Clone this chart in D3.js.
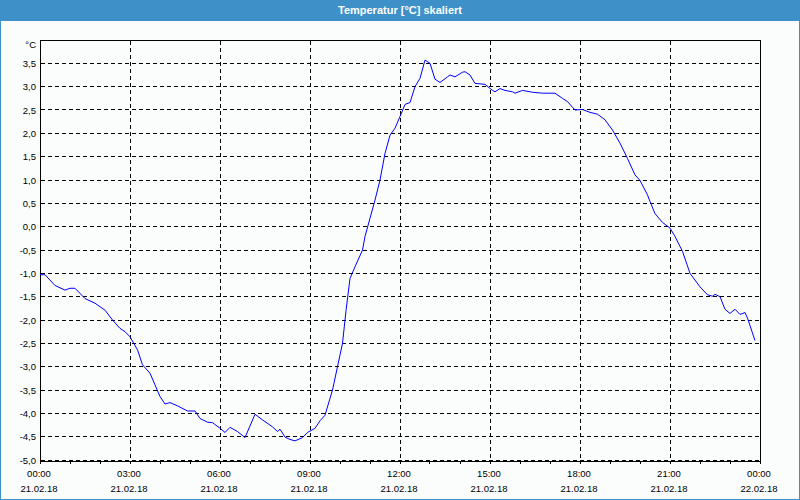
<!DOCTYPE html>
<html>
<head>
<meta charset="utf-8">
<script src="https://cdn.jsdelivr.net/npm/d3@7"></script>
<style>
html,body{margin:0;padding:0;background:#fbfcfc;}
svg{display:block;}
text{font-family:"Liberation Sans",Arial,sans-serif;}
</style>
</head>
<body>
<svg id="chart" width="800" height="500"></svg>
<script>
// ---- data ----
const titleText = "Temperatur [°C] skaliert";
const unitLabel = "°C";
// minutes since 21.02.18 00:00
const minutes = [0,10,30,50,60,70,90,110,130,145,160,170,180,195,205,220,230,240,250,260,275,295,310,320,335,345,360,370,380,395,410,430,445,465,475,480,490,500,510,525,535,550,560,570,585,595,605,612,620,630,645,650,660,670,680,690,700,710,720,730,740,750,760,770,780,790,800,815,820,830,845,850,860,870,890,905,910,920,930,945,950,965,985,1005,1030,1045,1055,1070,1085,1100,1115,1130,1145,1160,1175,1190,1200,1215,1220,1230,1245,1260,1270,1285,1300,1320,1335,1345,1350,1360,1370,1380,1390,1400,1410,1415,1430];
const temps = [-1.03,-1.03,-1.26,-1.36,-1.32,-1.32,-1.54,-1.64,-1.79,-2.0,-2.18,-2.25,-2.36,-2.64,-2.96,-3.14,-3.39,-3.64,-3.80,-3.77,-3.84,-3.95,-3.95,-4.11,-4.19,-4.20,-4.32,-4.41,-4.30,-4.39,-4.52,-4.02,-4.14,-4.29,-4.39,-4.34,-4.51,-4.56,-4.59,-4.52,-4.41,-4.32,-4.16,-4.04,-3.50,-3.00,-2.50,-1.80,-1.11,-0.86,-0.50,-0.21,0.18,0.57,1.00,1.57,1.96,2.11,2.36,2.62,2.66,3.00,3.18,3.57,3.50,3.16,3.09,3.21,3.25,3.21,3.31,3.32,3.25,3.07,3.05,2.92,2.89,2.96,2.92,2.89,2.86,2.92,2.88,2.86,2.86,2.75,2.68,2.50,2.51,2.45,2.41,2.29,2.07,1.79,1.46,1.11,0.99,0.68,0.54,0.28,0.09,-0.03,-0.21,-0.53,-1.00,-1.29,-1.46,-1.49,-1.45,-1.50,-1.77,-1.86,-1.77,-1.88,-1.84,-1.96,-2.44];
const yTicks = [-5.0,-4.5,-4.0,-3.5,-3.0,-2.5,-2.0,-1.5,-1.0,-0.5,0.0,0.5,1.0,1.5,2.0,2.5,3.0,3.5];
const xMajorMinutes = [0,180,360,540,720,900,1080,1260,1440];
const xTimeLabels = ["00:00","03:00","06:00","09:00","12:00","15:00","18:00","21:00","00:00"];
const xDateLabels = ["21.02.18","21.02.18","21.02.18","21.02.18","21.02.18","21.02.18","21.02.18","21.02.18","22.02.18"];
const xMinorMinutes = d3.range(0, 1441, 60);

// ---- layout ----
const W = 800, H = 500;
const L = 40, R = 760, T = 40, B = 460;
const blue = "#3d91c8";
const svg = d3.select("#chart");

const x = d3.scaleLinear().domain([0, 1440]).range([L, R]);
const y = d3.scaleLinear().domain([-5, 4]).range([B, T]);
const px = v => Math.floor(v) + 0.5;

// background & frame
svg.append("rect").attr("x",0).attr("y",0).attr("width",W).attr("height",H).attr("fill","#fbfcfc");
svg.append("rect").attr("x",0).attr("y",0).attr("width",W).attr("height",21).attr("fill",blue);
svg.append("rect").attr("x",0).attr("y",0).attr("width",1).attr("height",H).attr("fill",blue);
svg.append("rect").attr("x",W-1).attr("y",0).attr("width",1).attr("height",H).attr("fill",blue);
svg.append("rect").attr("x",0).attr("y",H-1).attr("width",W).attr("height",1).attr("fill",blue);

svg.append("text").attr("x",W/2).attr("y",14).attr("text-anchor","middle")
  .attr("fill","#ffffff").attr("font-size","11px").attr("font-weight","bold").text(titleText);

// gridlines
const grid = svg.append("g").attr("stroke","#000").attr("stroke-width",1)
  .attr("stroke-dasharray","4,3").attr("shape-rendering","crispEdges");
grid.selectAll("line.h").data(yTicks.filter(v => v < 4)).enter().append("line")
  .attr("x1",L+1).attr("x2",R)
  .attr("y1",d=>px(y(d))).attr("y2",d=>px(y(d)));
grid.selectAll("line.v").data(xMajorMinutes.filter(m => m > 0 && m < 1440)).enter().append("line")
  .attr("y1",T+1).attr("y2",B)
  .attr("x1",d=>px(x(d))).attr("x2",d=>px(x(d)));

// axes frame
const frame = svg.append("g").attr("stroke","#000").attr("stroke-width",1).attr("shape-rendering","crispEdges");
frame.append("line").attr("x1",L+0.5).attr("x2",L+0.5).attr("y1",T).attr("y2",B+3);
frame.append("line").attr("x1",L).attr("x2",R+1).attr("y1",T+0.5).attr("y2",T+0.5);
frame.append("line").attr("x1",R+0.5).attr("x2",R+0.5).attr("y1",T).attr("y2",B+3);
frame.append("line").attr("x1",L).attr("x2",R+1).attr("y1",B+1.5).attr("y2",B+1.5);
frame.selectAll("line.tick").data(xMinorMinutes).enter().append("line")
  .attr("x1",d=>px(x(d))).attr("x2",d=>px(x(d))).attr("y1",B+1).attr("y2",B+4);

// y labels
svg.append("g").selectAll("text").data(yTicks).enter().append("text")
  .attr("x",36).attr("y",d=>y(d)+3.5).attr("text-anchor","end")
  .attr("font-size","9.5px").attr("fill","#000")
  .text(d => d3.format(".1f")(d).replace(".", ",").replace("−","-"));
svg.append("text").attr("x",36).attr("y",47.5).attr("text-anchor","end")
  .attr("font-size","9.5px").attr("fill","#000").text(unitLabel);

// x labels
const xl = svg.append("g").attr("font-size","9.5px").attr("fill","#000").attr("text-anchor","middle");
xl.selectAll("text.t").data(xMajorMinutes).enter().append("text")
  .attr("x",d=>x(d)-1).attr("y",477).text((d,i)=>xTimeLabels[i]);
xl.selectAll("text.d").data(xMajorMinutes).enter().append("text")
  .attr("x",d=>x(d)-1).attr("y",492).text((d,i)=>xDateLabels[i]);

// line
const line = d3.line().x((d,i)=>x(minutes[i])).y(d=>y(d));
svg.append("path").datum(temps).attr("d",line)
  .attr("fill","none").attr("stroke","#0000ff").attr("stroke-width",1);
</script>
</body>
</html>
